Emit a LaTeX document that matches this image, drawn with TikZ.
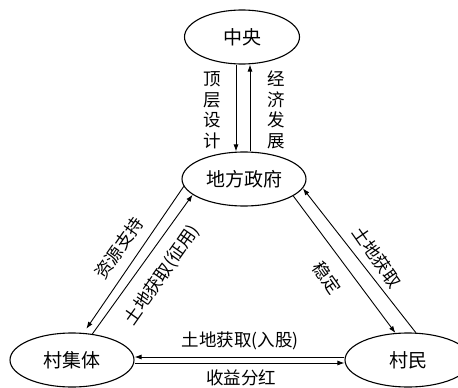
\documentclass[tikz,border=0pt]{standalone}
\usepackage{fontspec}
\setmainfont{Noto Sans CJK SC}
\usetikzlibrary{shapes.geometric,arrows.meta}
\tikzset{
  ell/.style={ellipse,draw,line width=1.1pt,inner sep=0pt,font=\fontsize{19}{21}\selectfont},
  lbl/.style={inner sep=0pt,font=\fontsize{17.5}{20.5}\selectfont,align=center},
  arr/.style={line width=0.9pt,-{Latex[length=7pt,width=5pt]}}
}
\begin{document}
\begin{tikzpicture}[x=1pt,y=-1pt]
\clip (0,0) rectangle (458,388);
\node[ell,minimum width=115pt,minimum height=54pt] (zy) at (242,37) {中央};
\node[ell,minimum width=124pt,minimum height=54pt] (df) at (244,179) {地方政府};
\node[ell,minimum width=124pt,minimum height=54pt] (cjt) at (72,360) {村集体};
\node[ell,minimum width=126pt,minimum height=54pt] (cm) at (408,360) {村民};
% vertical
\draw[arr] ([xshift=-6pt]zy.south) -- ([xshift=-8pt]df.north);
\draw[arr] ([xshift=6pt]df.north) -- ([xshift=8pt]zy.south);
\node[lbl] (l1) at (212,110) {顶\\层\\设\\计};
\node[lbl] (l2) at (276,110) {经\\济\\发\\展};
% left diagonal
\draw[arr,shorten >=5pt] (df.187.5) -- (cjt.67.8);
\draw[arr] (cjt.52.4) -- (df.197.1);
\node[lbl,rotate=55] (l3) at (119,248) {资源支持};
\node[lbl,rotate=55] (l4) at (162,275) {土地获取(征用)};
% right diagonal
\draw[arr] (df.341.9) -- (cm.115.7);
\draw[arr] (cm.74.9) -- (df.351.6);
\node[lbl,rotate=-55] (l5) at (327,278) {稳定};
\node[lbl,rotate=-55] (l6) at (377,257) {土地获取};
% horizontal
\draw[arr] ([yshift=3pt]cm.west) -- ([yshift=3pt]cjt.east);
\draw[arr] ([yshift=-3pt]cjt.east) -- ([yshift=-3pt]cm.west);
\node[lbl] (l7) at (240,341) {土地获取(入股)};
\node[lbl] (l8) at (241,378) {收益分红};
\end{tikzpicture}
\end{document}
